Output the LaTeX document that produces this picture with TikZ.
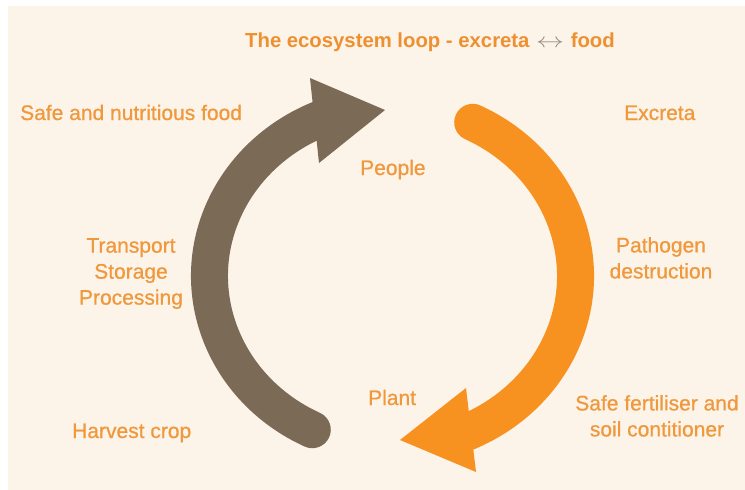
\documentclass[tikz,border=0pt]{standalone}
\usepackage{fontspec}
\setmainfont{Liberation Sans}
\newfontfamily\labelfont[FakeBold=0.7]{Liberation Sans}
\usepackage{graphicx}
\definecolor{paper}{HTML}{FCF3E9}
\definecolor{labelorange}{HTML}{F0983C}
\definecolor{titleorange}{HTML}{EE9030}
\definecolor{loopbrown}{HTML}{7B6B56}
\definecolor{looporange}{HTML}{F7911F}
\definecolor{arrowgray}{HTML}{9A8F86}
\begin{document}
\begin{tikzpicture}[x=1pt,y=-1pt,
  label/.style={text=labelorange,inner sep=0pt,font=\labelfont\fontsize{21}{26}\selectfont},
  titletext/.style={text=titleorange,inner sep=0pt,font=\fontsize{20.3}{24}\selectfont\bfseries},
  band/.style={line width=37pt}]
% page and panel
\useasboundingbox (0,0) rectangle (745,490);
\fill[white] (0,0) rectangle (745,490);
\fill[paper] (8,6) rectangle (745,490);

% ellipse the two bands follow
\coordinate (c) at (392.5,276);

% orange band: excreta towards the plant
\draw[band,looporange,line cap=round] (c) ++(-64:183 and 171) coordinate (oStart)
  arc[start angle=-64,end angle=68,x radius=183,y radius=171] coordinate (oEnd);
\coordinate (oh1) at (466,388);
\coordinate (oh2) at (400,440);
\coordinate (oh3) at (476,472);
\fill[looporange] (oh1) -- (oh2) -- (oh3) -- cycle;

% brown band: harvest back to people
\draw[band,loopbrown,line cap=round] (c) ++(116:183 and 171) coordinate (bStart)
  arc[start angle=116,end angle=248,x radius=183,y radius=171] coordinate (bEnd);
\coordinate (bh1) at (310,78);
\coordinate (bh2) at (385,110);
\coordinate (bh3) at (319,163);
\fill[loopbrown] (bh1) -- (bh2) -- (bh3) -- cycle;

% title
\node[titletext,anchor=base west] (title) at (245,47)
  {The ecosystem loop - excreta \makebox[30pt]{\color{arrowgray}\mdseries\scalebox{1.35}[1]{$\leftrightarrow$}} food};

% labels
\node[label,anchor=base west] (food) at (20,120) {Safe and nutritious food};
\node[label,anchor=base west] (excreta) at (624,120) {Excreta};
\node[label,anchor=base west] (people) at (360,175) {People};
\node[label,anchor=north,align=center] (transport) at (131,238) {Transport\\Storage\\Processing};
\node[label,anchor=north,align=center] (pathogen) at (661,237) {Pathogen\\destruction};
\node[label,anchor=north,align=center] (fertiliser) at (657,395) {Safe fertiliser and\\soil contitioner};
\node[label,anchor=base west] (plant) at (368,405) {Plant};
\node[label,anchor=base west] (harvest) at (72,438) {Harvest crop};
\end{tikzpicture}
\end{document}
